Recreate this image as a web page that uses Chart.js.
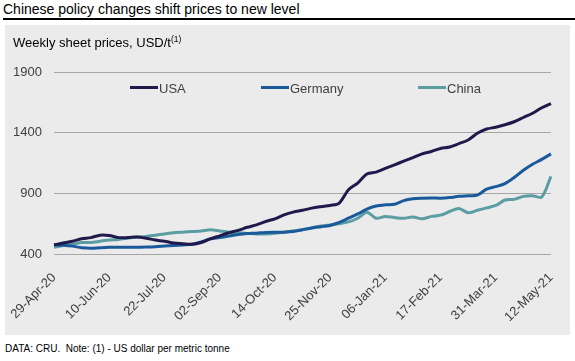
<!DOCTYPE html>
<html>
<head>
<meta charset="utf-8">
<script src="https://cdn.jsdelivr.net/npm/chart.js@4.4.1/dist/chart.umd.min.js"></script>
<style>
  body { margin: 0; background: #fff; font-family: "Liberation Sans", Arial, sans-serif; }
  #wrap { position: relative; width: 575px; height: 361px; overflow: hidden; }
  #title { position: absolute; left: 3px; top: 1px; font-size: 14px; color: #000; white-space: nowrap; }
  #rule { position: absolute; left: 3px; top: 18px; width: 572px; height: 2px; background: #000; }
  #panel { position: absolute; left: 5px; top: 25px; width: 565px; height: 310px; background: #ebebeb; }
  #sub { position: absolute; left: 13px; top: 34px; font-size: 13px; color: #000; white-space: nowrap; }
  #sub sup { font-size: 8.5px; vertical-align: 5px; }
  .leg { position: absolute; top: 81px; font-size: 13px; color: #404040; white-space: nowrap; }
  .leg i { display: inline-block; width: 28px; height: 3px; margin-right: 1px; vertical-align: 4px; }
  #note { position: absolute; left: 5px; top: 343px; font-size: 10px; color: #000; white-space: nowrap; }
</style>
</head>
<body>
<div id="wrap">
  <div id="title">Chinese policy changes shift prices to new level</div>
  <div id="rule"></div>
  <div id="panel"><canvas id="priceChart" width="565" height="310"></canvas></div>
  <div id="sub">Weekly sheet prices, USD/t<sup>(1)</sup></div>
  <div id="note">DATA: CRU.&nbsp; Note: (1) - US dollar per metric tonne</div>
</div>
<script>
// weekly dates
var weeks = [
  '29-Apr-20', '06-May-20', '13-May-20', '20-May-20', '27-May-20', '03-Jun-20', '10-Jun-20',
  '17-Jun-20', '24-Jun-20', '01-Jul-20', '08-Jul-20', '15-Jul-20', '22-Jul-20', '29-Jul-20',
  '05-Aug-20', '12-Aug-20', '19-Aug-20', '26-Aug-20', '02-Sep-20', '09-Sep-20', '16-Sep-20',
  '23-Sep-20', '30-Sep-20', '07-Oct-20', '14-Oct-20', '21-Oct-20', '28-Oct-20', '04-Nov-20',
  '11-Nov-20', '18-Nov-20', '25-Nov-20', '02-Dec-20', '09-Dec-20', '16-Dec-20', '23-Dec-20',
  '30-Dec-20', '06-Jan-21', '13-Jan-21', '20-Jan-21', '27-Jan-21', '03-Feb-21', '10-Feb-21',
  '17-Feb-21', '24-Feb-21', '03-Mar-21', '10-Mar-21', '17-Mar-21', '24-Mar-21', '31-Mar-21',
  '07-Apr-21', '14-Apr-21', '21-Apr-21', '28-Apr-21', '05-May-21', '12-May-21'
];
var tickLabels = ['29-Apr-20', '10-Jun-20', '22-Jul-20', '02-Sep-20', '14-Oct-20',
  '25-Nov-20', '06-Jan-21', '17-Feb-21', '31-Mar-21', '12-May-21'];
var yTicks = [400, 900, 1400, 1900];

var usa = [475, 490, 505, 525, 535, 555, 552, 535, 535, 540, 530, 515, 505, 490,
  485, 480, 495, 525, 550, 575, 595, 620, 640, 668, 690, 722, 745, 760, 778, 790,
  800, 820, 930, 985, 1060, 1075, 1105, 1135, 1165, 1195, 1225, 1245, 1270, 1282,
  1310, 1340, 1395, 1430, 1445, 1465, 1490, 1525, 1560, 1605, 1640];
var germany = [475, 472, 465, 452, 448, 452, 455, 455, 455, 455, 457, 460, 465, 470,
  475, 480, 500, 525, 535, 548, 560, 568, 572, 578, 580, 580, 585, 600, 615, 625,
  635, 660, 695, 730, 770, 795, 805, 810, 840, 855, 860, 862, 860, 865, 875, 880,
  885, 935, 955, 980, 1030, 1090, 1140, 1180, 1225];
var china = [455, 470, 480, 495, 495, 505, 515, 520, 530, 540, 545, 555, 565, 575,
  580, 585, 590, 600, 590, 580, 575, 570, 565, 565, 570, 580, 590, 600, 615, 630,
  640, 650, 665, 695, 745, 695, 710, 700, 695, 705, 690, 710, 720, 750, 775, 740,
  760, 780, 800, 845, 850, 875, 880, 870, 1040];

var seriesNames = ['USA', 'Germany', 'China'];
var seriesColors = ['#1f1a4b', '#1a5a9b', '#5a9ea4'];
var legendLeft = [130, 261, 418];

var wrap = document.getElementById('wrap');
seriesNames.forEach(function (name, i) {
  var d = document.createElement('div');
  d.className = 'leg';
  d.style.left = legendLeft[i] + 'px';
  d.innerHTML = '<i style="background:' + seriesColors[i] + '"></i>' + name;
  wrap.appendChild(d);
});

var values = [usa, germany, china];
var ctx = document.getElementById('priceChart').getContext('2d');
var priceChart = new Chart(ctx, {
  type: 'line',
  data: {
    labels: weeks,
    datasets: seriesNames.map(function (name, i) {
      return {
        label: name,
        data: values[i],
        borderColor: seriesColors[i],
        borderWidth: 3,
        pointRadius: 0,
        tension: 0.3,
        fill: false
      };
    })
  },
  options: {
    responsive: false,
    animation: false,
    layout: { padding: { top: 47, right: 15, left: 0, bottom: 0 } },
    plugins: {
      legend: { display: false },
      tooltip: { enabled: false }
    },
    scales: {
      x: {
        grid: { display: false },
        border: { display: false },
        afterFit: function (scale) { scale.height = 81; },
        ticks: {
          autoSkip: false,
          minRotation: 45,
          maxRotation: 45,
          padding: 8,
          color: '#404040',
          font: { family: 'Liberation Sans', size: 13 },
          callback: function (val, idx) {
            var lab = weeks[idx];
            return tickLabels.indexOf(lab) >= 0 ? lab : null;
          }
        }
      },
      y: {
        min: 400,
        max: 1900,
        afterFit: function (scale) { scale.width = 49; },
        afterBuildTicks: function (scale) {
          scale.ticks = yTicks.map(function (v) { return { value: v }; });
        },
        grid: { color: '#a6a6a6', lineWidth: 1, drawTicks: false },
        border: { display: false },
        ticks: {
          padding: 12,
          color: '#404040',
          font: { family: 'Liberation Sans', size: 13 },
          callback: function (v) { return String(v); }
        }
      }
    }
  }
});
</script>
</body>
</html>
